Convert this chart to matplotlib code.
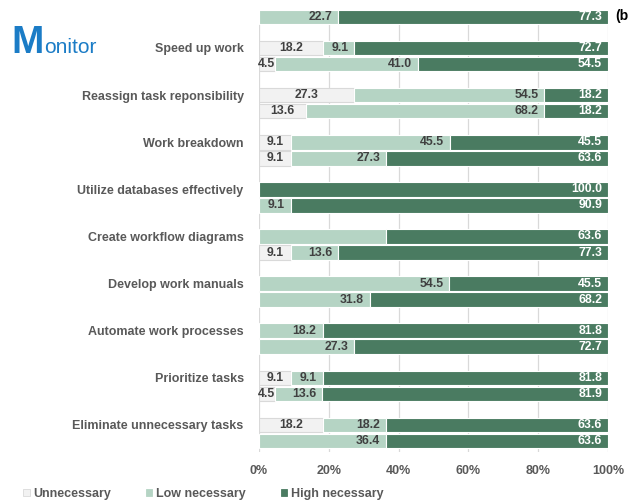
import numpy as np
import matplotlib.pyplot as plt
from matplotlib.patches import Patch

plt.rcParams['font.family'] = ['Liberation Sans', 'DejaVu Sans']

# categories top to bottom; the first row is only partly in view
categories = ["", "Speed up work", "Reassign task reponsibility", "Work breakdown",
              "Utilize databases effectively", "Create workflow diagrams",
              "Develop work manuals", "Automate work processes",
              "Prioritize tasks", "Eliminate unnecessary tasks"]

# upper bar of each pair
upper_unnec = [np.nan, 18.2, 27.3, 9.1, 0, 0, 0, 0, 9.1, 18.2]
upper_low = [np.nan, 9.1, 54.5, 45.5, 0, 36.4, 54.5, 18.2, 9.1, 18.2]
upper_high = [np.nan, 72.7, 18.2, 45.5, 100.0, 63.6, 45.5, 81.8, 81.8, 63.6]

# lower bar of each pair
lower_unnec = [0, 4.5, 13.6, 9.1, 0, 9.1, 0, 0, 4.5, 0]
lower_low = [22.7, 41.0, 68.2, 27.3, 9.1, 13.6, 31.8, 27.3, 13.6, 36.4]
lower_high = [77.3, 54.5, 18.2, 63.6, 90.9, 77.3, 68.2, 72.7, 81.9, 63.6]

series_names = ["Unnecessary", "Low necessary", "High necessary"]
colors = ["#F2F2F2", "#B5D4C4", "#4A7B61"]
edge_colors = ["#D9D9D9", "white", "white"]
text_colors = ["#404040", "#404040", "white"]

# value labels not shown on the chart: (bar, row, series)
hidden = {("upper", 5, 1)}

fig = plt.figure(figsize=(6.28, 5.04), dpi=100)
ax = fig.add_axes([259 / 628, 52 / 504, 349 / 628, 441 / 504])

n = len(categories)
y = np.arange(n)[::-1].astype(float)  # Eliminate at 0, Speed up at 8
off = 0.17
h = 0.31

for key, rows, ys in [("upper", [upper_unnec, upper_low, upper_high], y + off),
                      ("lower", [lower_unnec, lower_low, lower_high], y - off)]:
    left = np.zeros(n)
    for s, vals in enumerate(rows):
        vals = np.array(vals, dtype=float)
        ax.barh(ys, vals, left=left, height=h, color=colors[s],
                edgecolor=edge_colors[s], linewidth=0.8, zorder=2)
        for i in range(n):
            v = vals[i]
            if np.isnan(v) or v == 0 or (key, i, s) in hidden:
                continue
            if s == 0:
                x, ha = left[i] + v / 2, "center"
            else:
                x, ha = left[i] + v - 1.7, "right"
            ax.text(x, ys[i], f"{v:.1f}", ha=ha, va="center", fontsize=8.8,
                    fontweight="bold", color=text_colors[s], zorder=3)
        left = left + np.nan_to_num(vals)

ax.set_xlim(0, 100)
ax.set_ylim(-0.403, 8.955)
ax.set_xticks(np.arange(0, 101, 20))
ax.set_xticklabels([f"{t}%" for t in range(0, 101, 20)])
ax.set_yticks(y[1:] + off)
ax.set_yticklabels(categories[1:])
ax.tick_params(axis="both", length=0, labelsize=9, labelcolor="#595959")
ax.tick_params(axis="x", pad=9)
ax.tick_params(axis="y", pad=11)
for lab in ax.get_xticklabels() + ax.get_yticklabels():
    lab.set_fontweight("bold")
for sp in ax.spines.values():
    sp.set_visible(False)
ax.grid(axis="x", color="#D9D9D9", linewidth=0.9, zorder=0)
ax.set_axisbelow(True)

handles = [Patch(facecolor=colors[s], edgecolor=edge_colors[0] if s == 0 else colors[s],
                 linewidth=0.6) for s in range(3)]
leg = fig.legend(handles, series_names, loc="center left", bbox_to_anchor=(17 / 628, 10 / 504),
                 ncol=3, frameon=False, handlelength=0.5, handleheight=0.5,
                 handletextpad=0.3, columnspacing=2.8, borderpad=0,
                 prop={"weight": "bold", "size": 9})
for t in leg.get_texts():
    t.set_color("#595959")

fig.text(11 / 628, 1 - 53 / 504, "M", fontsize=28, fontweight="bold", color="#1B7CC6",
         va="baseline", ha="left")
fig.text(44 / 628, 1 - 53 / 504, "onitor", fontsize=15, color="#1B7CC6",
         va="baseline", ha="left")
fig.text(615 / 628, 1 - 16 / 504, "(b)", fontsize=10, fontweight="bold", color="black",
         va="center", ha="left")

fig.savefig("out.png", dpi=100)
